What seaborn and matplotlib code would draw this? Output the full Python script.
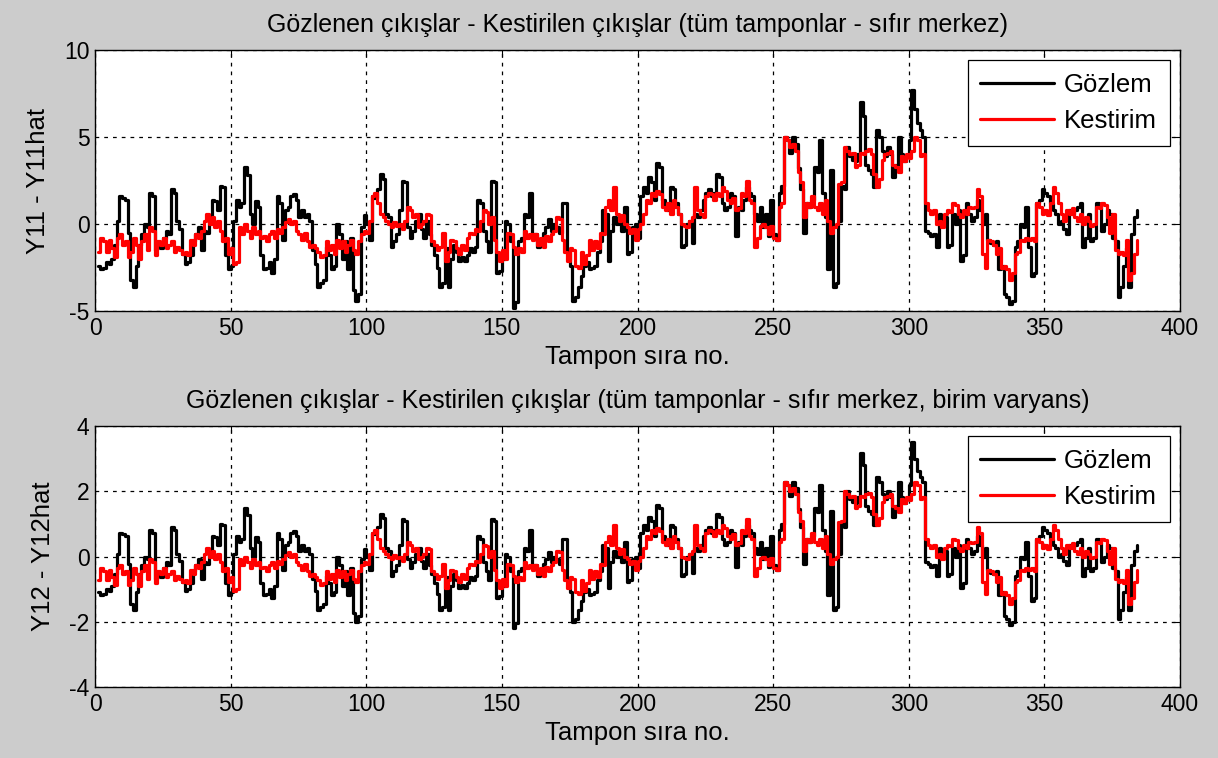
import numpy as np
import pandas as pd
import matplotlib
matplotlib.use("Agg")
import matplotlib.pyplot as plt
import seaborn as sns

# Observed buffer outputs (zero-centred), one value per buffer
gozlem = [
    -2.4, -2.6, -2.5, -2.2, -2.3, -2.0, -1.2, 0.2, 1.6, 1.5,
    1.4, -0.5, -3.2, -3.6, -2.4, -1.2, -0.6, 0.0, -0.2, 1.8,
    1.6, -1.5, -1.2, -1.4, -0.8, -0.4, -0.6, 2.0, 1.8, 0.2,
    -0.3, -1.7, -2.3, -2.2, -1.8, -1.0, -0.6, -0.2, -1.5, -0.4,
    -0.5, 0.4, 1.4, 1.3, 0.8, 2.2, 2.1, -1.8, -2.6, -2.4,
    0.2, 1.4, 1.0, 1.2, 3.3, 2.8, 0.6, 0.0, 1.3, 1.0,
    -1.8, -2.6, -2.5, -2.2, -2.8, -2.0, 1.6, 1.2, -0.9, 0.8,
    1.0, 1.6, 1.7, 1.4, 0.4, 0.8, 0.4, 0.6, 0.2, -1.5,
    -2.3, -3.6, -3.4, -3.2, -1.3, -1.8, -2.6, -2.4, 0.0, -0.6,
    -2.0, -1.0, -2.6, -0.8, -3.8, -4.4, -4.0, -0.2, 0.5, 0.0,
    -0.9, 1.6, 1.5, 2.0, 2.9, 2.6, 0.6, 0.4, -1.3, -1.0,
    -0.6, 0.8, 2.5, 2.4, -0.2, -0.8, -0.4, 0.2, 0.6, -0.3,
    -0.8, 0.2, -0.6, -1.2, -1.8, -2.5, -3.6, -3.4, -1.4, -3.6,
    -2.0, -1.2, -1.6, -2.1, -1.9, -2.1, -1.8, -1.4, -1.6, -1.3,
    1.4, 1.2, -0.4, -1.0, -1.6, 2.5, 2.4, -2.8, -2.7, -2.0,
    0.2, 0.0, -1.0, -4.8, -4.5, -1.0, -0.8, 0.6, 0.4, 1.8,
    -0.8, -0.6, -1.3, -1.2, -0.5, -0.2, 0.3, -0.4, 0.0, -0.2,
    -0.5, 1.2, 1.2, -1.6, -2.4, -4.4, -4.2, -3.6, -3.0, -2.4,
    -2.2, -2.6, -2.5, -2.4, -1.6, -1.0, 0.8, 0.6, -2.1, -0.4,
    0.4, 0.0, 0.2, -0.4, 1.0, -1.7, -1.6, -0.2, 0.0, -0.8,
    1.6, 2.1, 1.8, 2.7, 2.4, 1.4, 3.5, 3.3, 1.4, 1.0,
    0.8, 2.1, 2.0, 1.2, 0.6, -1.3, -1.2, 0.0, 0.2, -1.1,
    0.6, 0.4, 0.8, 1.4, 1.8, 2.0, 1.6, 1.8, 2.9, 2.7,
    1.2, 0.8, 1.0, 1.8, 1.6, -0.7, 1.0, 0.8, 1.4, 2.1,
    1.8, 1.6, 0.6, 0.2, 1.0, -0.2, 0.6, -0.7, 1.4, -0.6,
    -0.9, 1.8, 2.2, 5.0, 4.8, 4.1, 5.0, 4.6, 3.2, 2.0,
    -0.5, 1.2, 1.0, 1.4, 3.3, 3.0, 4.8, 1.8, 0.4, -2.6,
    3.1, -3.6, -3.4, 0.2, 2.2, 2.0, 4.4, 3.9, 3.7, 3.6,
    4.0, 7.0, 6.2, 3.4, 3.1, 2.9, 2.1, 5.4, 5.0, 4.2,
    3.9, 4.4, 4.0, 2.7, 3.4, 5.0, 4.0, 3.6, 3.9, 4.8,
    7.7, 6.6, 5.8, 5.4, 5.0, -0.4, -0.5, -0.7, -0.6, -1.3,
    0.6, 0.0, 0.4, -1.3, -1.2, 0.6, 0.0, 0.8, -2.1, -1.8,
    1.2, 0.6, 0.2, 0.4, 1.4, 0.8, 0.0, 0.6, -0.9, -1.1,
    -1.2, -1.0, -2.6, -2.4, -4.0, -4.2, -4.6, -4.4, -1.3, -1.0,
    0.0, -0.2, 1.0, -1.3, -3.0, -2.8, 1.2, 1.4, 2.0, 1.8,
    1.6, 1.2, 0.8, 0.6, 0.0, 0.2, -0.3, -0.6, 0.8, 0.6,
    0.8, 1.0, 1.2, -1.3, -0.8, 0.6, -1.0, -0.8, 1.2, 1.0,
    -0.4, 0.0, 0.8, 0.6, -0.8, -1.0, -4.2, -3.6, -2.4, -1.4,
    -3.6, -0.6, 0.4, 0.8,
]

# Model estimates for the same buffers
kestirim = [
    -1.6, -0.8, -1.0, -1.6, -0.9, -1.4, -1.9, -0.8, -0.6, -1.2,
    -1.0, -1.9, -1.6, -0.8, -1.2, -2.0, -1.0, -0.6, -1.5, -0.2,
    -0.4, -1.8, -1.0, -1.2, -0.8, -1.4, -1.2, -1.0, -1.6, -1.3,
    -1.5, -1.7, -1.6, -1.8, -0.9, -1.2, -0.6, -0.8, -0.4, 0.2,
    0.6, 0.0, 0.4, -0.2, 0.2, -0.4, -1.0, -0.8, -1.7, -1.4,
    -2.3, -2.2, -0.2, -0.6, 0.0, -0.4, -0.8, -0.2, -0.6, -0.4,
    -0.8, -0.7, -1.0, -0.6, -0.4, -0.8, -0.3, -0.5, -0.2, 0.1,
    0.3, 0.0, 0.2, -0.4, -0.6, -0.9, -0.5, -1.0, -1.3, -1.2,
    -1.4, -1.6, -1.9, -1.8, -1.0, -1.5, -1.2, -1.7, -0.9, -1.4,
    -1.0, -1.6, -1.2, -0.9, -1.5, -1.7, -1.0, -0.6, -0.4, -0.5,
    0.2, 1.6, 1.8, 1.2, 0.6, 0.4, 0.2, 0.0, -0.2, 0.1,
    -0.1, 0.0, -0.3, 0.2, 1.0, 0.8, 0.4, 0.6, -0.2, 0.0,
    0.2, 0.6, 0.5, -1.0, -1.2, -1.5, -1.3, -0.5, -2.1, -1.6,
    -0.9, -1.0, -1.4, -1.7, -1.2, -1.5, -0.8, -0.5, -0.6, -0.3,
    -0.4, 0.2, 0.8, 0.7, 0.0, 0.4, -0.9, -1.6, -2.1, -1.5,
    -2.0, -0.5, -0.6, -1.3, -1.7, -1.4, -1.6, -0.4, -0.8, -0.6,
    -0.9, -0.6, -1.2, -0.8, -1.3, -0.7, -1.0, -0.6, -0.4, 0.4,
    0.3, -0.9, -1.6, -2.1, -1.4, -1.5, -2.4, -2.5, -1.6, -2.3,
    -1.8, -0.9, -1.5, -1.0, -1.4, -0.5, -0.6, 1.0, 1.4, 0.8,
    2.1, 0.6, 0.2, 0.5, 0.0, -0.2, -0.5, -0.3, -0.9, -0.3,
    0.0, 0.6, 1.4, 1.2, 1.8, 1.6, 1.9, 1.7, 1.0, 0.8,
    1.2, 0.6, 1.4, 1.0, 0.6, 0.0, -0.1, -0.2, 0.2, 0.4,
    2.1, 0.8, 0.6, 0.4, 1.6, 1.8, 1.7, 1.4, 1.8, 1.6,
    2.1, 1.9, 1.4, 1.2, 1.5, 0.8, 0.9, 1.8, 1.6, 2.5,
    1.4, 1.2, -1.3, -0.8, -0.1, 0.0, -0.2, -0.6, -0.1, -0.8,
    -0.9, 1.0, 1.2, 5.0, 4.8, 4.4, 4.6, 4.2, 3.0, 2.4,
    0.4, 1.2, 1.0, 1.6, 1.0, 0.8, 1.2, 0.6, 1.4, 0.2,
    -0.5, -0.2, 0.0, 2.3, 2.4, 4.4, 4.2, 4.0, 4.1, 3.3,
    3.4, 4.1, 4.0, 4.2, 4.3, 4.0, 2.9, 2.1, 2.6, 3.7,
    4.0, 4.1, 4.2, 3.4, 3.3, 3.0, 3.9, 3.6, 4.0, 3.8,
    4.2, 5.0, 4.8, 3.9, 4.0, 1.2, 0.8, 0.6, 0.8, 0.0,
    0.2, -0.2, 0.6, 0.8, 0.7, 1.2, 1.1, 0.6, 0.4, 0.8,
    0.6, 1.0, 0.9, 1.0, 2.0, 1.6, -1.7, -2.5, -0.9, -1.0,
    -1.2, -1.7, -1.4, -2.5, -2.4, -2.6, -3.2, -2.8, -1.7, -1.6,
    -0.9, -1.0, -0.8, -0.9, -0.8, -1.0, 1.2, 1.0, 0.6, 0.8,
    0.5, 1.2, 2.1, 1.8, 1.2, 0.6, 0.2, 0.8, 0.6, 0.9,
    0.4, 0.2, 0.6, 0.0, 0.4, 0.2, -0.1, 0.0, 1.0, 0.9,
    1.2, 1.1, 0.4, -0.5, 0.6, -1.5, -1.7, -1.6, -1.8, -0.9,
    -3.2, -2.8, -1.7, -0.9,
]

series_names = ["Gözlem", "Kestirim"]
x_ticks = [0, 50, 100, 150, 200, 250, 300, 350, 400]
y_ticks_top = [-5, 0, 5, 10]
y_ticks_bottom = [-4, -2, 0, 2, 4]

titles = [
    "Gözlenen çıkışlar - Kestirilen çıkışlar (tüm tamponlar - sıfır merkez)",
    "Gözlenen çıkışlar - Kestirilen çıkışlar (tüm tamponlar - sıfır merkez, birim varyans)",
]
y_labels = ["Y11 - Y11hat", "Y12 - Y12hat"]
x_label = "Tampon sıra no."

obs = np.array(gozlem)
est = np.array(kestirim)
buffer_no = np.arange(1, len(obs) + 1)

# unit-variance version: scale both series by the spread of the observations
scale = obs.std()
obs_unit = obs / scale
est_unit = est / scale


def long_frame(o, e):
    return pd.DataFrame({
        "tampon": np.concatenate([buffer_no, buffer_no]),
        "deger": np.concatenate([o, e]),
        "seri": [series_names[0]] * len(o) + [series_names[1]] * len(e),
    })


sns.set_theme(style="white")
plt.rcParams["font.family"] = ["Liberation Sans", "DejaVu Sans"]
plt.rcParams["axes.unicode_minus"] = False
plt.rcParams["text.color"] = "black"
plt.rcParams["axes.labelcolor"] = "black"
plt.rcParams["xtick.color"] = "black"
plt.rcParams["ytick.color"] = "black"

TITLE_FS = 18
LABEL_FS = 18.5
TICK_FS = 16.5
LEGEND_FS = 18.5

fig = plt.figure(figsize=(12.18, 7.58), dpi=100)
fig.patch.set_facecolor("#cccccc")

axes_pos = [
    [95 / 1218, 1 - 311 / 758, 1085 / 1218, 261 / 758],
    [95 / 1218, 1 - 687 / 758, 1085 / 1218, 261 / 758],
]
panels = [
    (long_frame(obs, est), (-5, 10), y_ticks_top),
    (long_frame(obs_unit, est_unit), (-4, 4), y_ticks_bottom),
]

palette = {series_names[0]: "black", series_names[1]: "red"}

for pos, (df, ylim, yticks), title, ylab in zip(axes_pos, panels, titles, y_labels):
    ax = fig.add_axes(pos)
    ax.set_facecolor("white")
    sns.lineplot(data=df, x="tampon", y="deger", hue="seri", palette=palette,
                 hue_order=series_names, drawstyle="steps-post", linewidth=2.3,
                 ax=ax, estimator=None, sort=False)
    ax.set_xlim(0, 400)
    ax.set_ylim(*ylim)
    ax.set_xticks(x_ticks)
    ax.set_yticks(yticks)
    ax.grid(True, color="black", linestyle=(0, (3, 4)), linewidth=0.9)
    ax.set_axisbelow(True)
    for sp in ax.spines.values():
        sp.set_color("black")
        sp.set_linewidth(1.0)
    ax.tick_params(direction="in", length=5, width=0.8, top=True, right=True,
                   labelsize=TICK_FS, colors="black", pad=4)
    ax.set_title(title, fontsize=TITLE_FS, pad=13, color="black")
    ax.set_xlabel(x_label, fontsize=LABEL_FS, labelpad=4)
    ax.set_ylabel(ylab, fontsize=LABEL_FS, labelpad=10)
    leg = ax.legend(loc="upper right", frameon=True, fancybox=False,
                    edgecolor="black", framealpha=1, fontsize=LEGEND_FS,
                    handlelength=2.85, handletextpad=0.4, labelspacing=0.45,
                    borderaxespad=0.4, borderpad=0.5)
    leg.get_frame().set_linewidth(0.9)
    for line in leg.get_lines():
        line.set_linewidth(2.3)

fig.savefig("out.png", dpi=100, facecolor=fig.get_facecolor())
